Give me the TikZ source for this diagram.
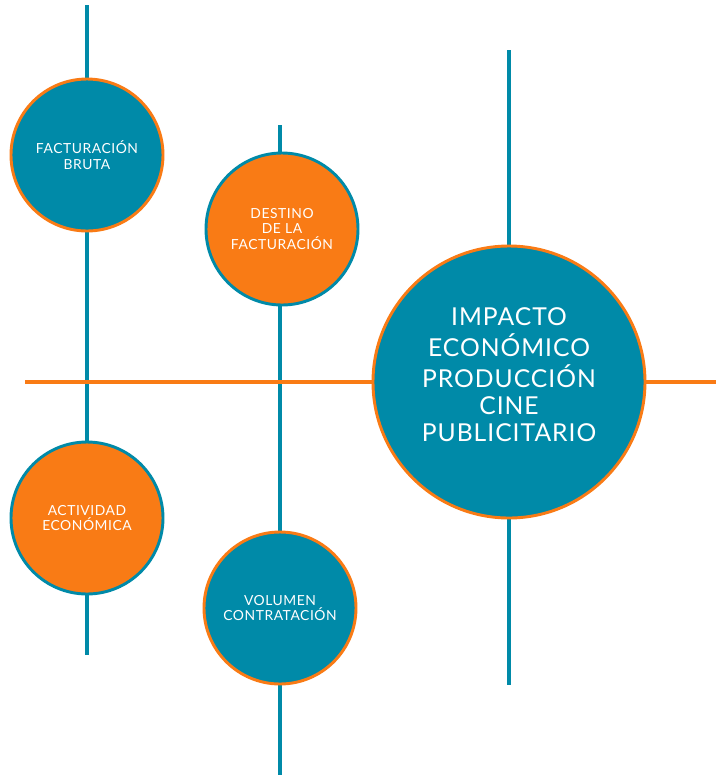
\documentclass[tikz,border=0pt]{standalone}
\usepackage{fontspec}
\setmainfont{Lato}[LetterSpace=4]
\definecolor{teal}{RGB}{0,138,168}
\definecolor{naranja}{RGB}{249,123,21}
\tikzset{
  tema/.style={circle, fill=teal, draw=naranja, line width=2.2pt, minimum size=114pt,
    inner sep=0pt, text=white, align=center, font=\fontsize{10.4}{11.8}\selectfont},
  acento/.style={circle, fill=naranja, draw=teal, line width=2.2pt, minimum size=114pt,
    inner sep=0pt, text=white, align=center, font=\fontsize{10.4}{11.8}\selectfont},
  eje/.style={teal, line width=3pt},
}
\begin{document}
\begin{tikzpicture}[x=0.75pt, y=-0.75pt]
  \useasboundingbox (0, 0) rectangle (716, 776);
  % Line ends
  \coordinate (a1) at (87, 5);
  \coordinate (a2) at (87, 655);
  \coordinate (b1) at (280, 125);
  \coordinate (b2) at (280, 775);
  \coordinate (c1) at (509, 50);
  \coordinate (c2) at (509, 685);
  \coordinate (h1) at (25, 382);
  \coordinate (h2) at (716, 382);

  \draw[eje] (a1) -- (a2);
  \draw[eje] (b1) -- (b2);
  \draw[eje] (c1) -- (c2);
  \draw[naranja, line width=3pt] (h1) -- (h2);

  % Circles
  \node[tema] (bruta) at (87, 155) {FACTURACIÓN\\BRUTA};
  \node[acento] (destino) at (282, 229) {DESTINO\\DE LA\\FACTURACIÓN};
  \node[acento] (actividad) at (87, 518) {ACTIVIDAD\\ECONÓMICA};
  \node[tema] (volumen) at (280, 608) {VOLUMEN\\CONTRATACIÓN};
  \node[tema, minimum size=204pt, font=\fontsize{18.5}{20.5}\selectfont] (impacto) at (509, 382)
    {\raisebox{0pt}[\height][\dimexpr\depth+6pt]{\begin{tabular}{@{}c@{}}IMPACTO\\ECONÓMICO\\PRODUCCIÓN\\CINE\\PUBLICITARIO\end{tabular}}};
\end{tikzpicture}
\end{document}
